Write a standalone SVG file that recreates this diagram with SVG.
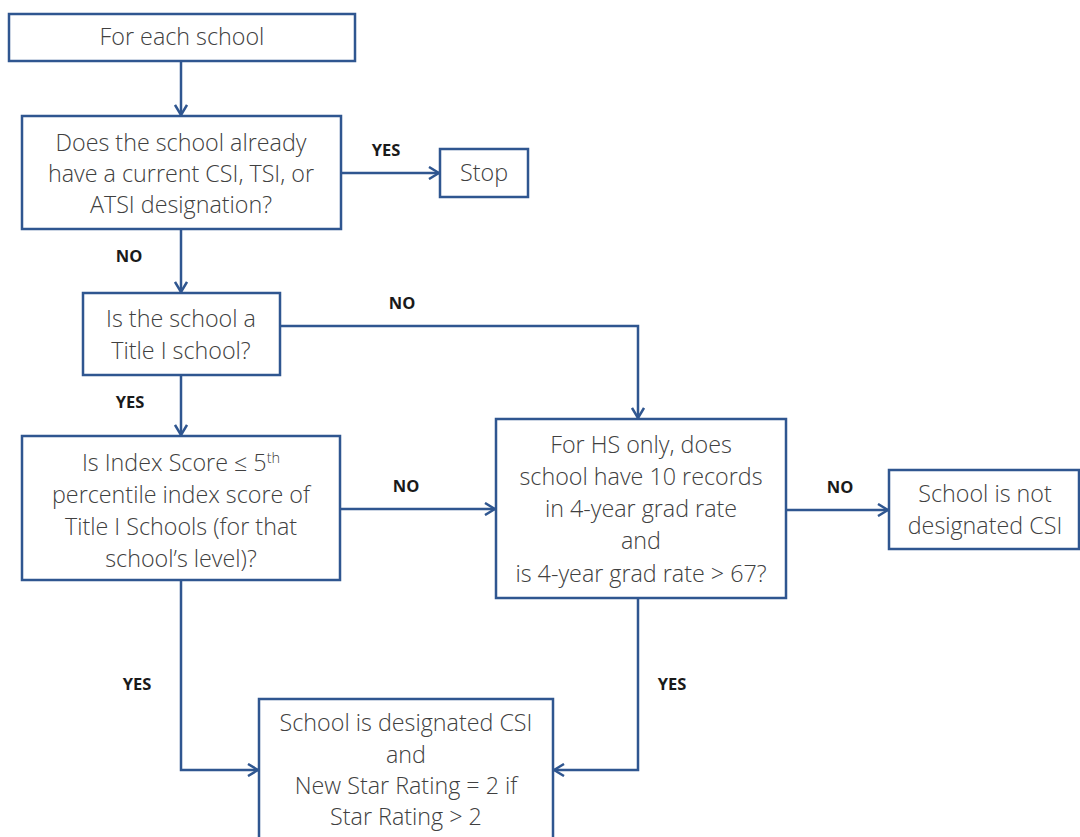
<svg xmlns="http://www.w3.org/2000/svg" width="1080" height="837" viewBox="0 0 1080 837">
<style>
.box{fill:#fff;stroke:#2f5690;stroke-width:2.5}
.t{font-family:"Open Sans",sans-serif;font-size:23.3px;font-weight:300;fill:#404040;text-anchor:middle}
.lbl{font-family:"Open Sans",sans-serif;font-size:16.5px;font-weight:bold;fill:#1a1a1a;text-anchor:middle}
.c{fill:none;stroke:#2f5690;stroke-width:2.5}
</style>
<defs>
<marker id="ah" viewBox="0 0 12 14" refX="11" refY="7" markerWidth="12" markerHeight="14" markerUnits="userSpaceOnUse" orient="auto">
<path d="M1,1 L11,7 L1,13" fill="none" stroke="#2f5690" stroke-width="2.5"/>
</marker>
</defs>
<rect width="1080" height="837" fill="#fff"/>
<g id="connectors">
<path class="c" d="M181,61 V115" marker-end="url(#ah)"/>
<path class="c" d="M341,173 H439" marker-end="url(#ah)"/>
<path class="c" d="M181,229 V292" marker-end="url(#ah)"/>
<path class="c" d="M280,326 H638 V418" marker-end="url(#ah)"/>
<path class="c" d="M181,375 V435" marker-end="url(#ah)"/>
<path class="c" d="M340,509 H495" marker-end="url(#ah)"/>
<path class="c" d="M786,510 H888" marker-end="url(#ah)"/>
<path class="c" d="M181,580 V770 H258" marker-end="url(#ah)"/>
<path class="c" d="M638,598 V770 H554" marker-end="url(#ah)"/>
<text class="lbl" x="386" y="156">YES</text>
<text class="lbl" x="129" y="262">NO</text>
<text class="lbl" x="402" y="309">NO</text>
<text class="lbl" x="130" y="408">YES</text>
<text class="lbl" x="406" y="492">NO</text>
<text class="lbl" x="840" y="493">NO</text>
<text class="lbl" x="137" y="690">YES</text>
<text class="lbl" x="672" y="690">YES</text>
</g>
<g id="n1">
<rect class="box" x="9" y="14" width="346" height="47"/>
<text class="t" x="182" y="45">For each school</text>
</g>
<g id="n2">
<rect class="box" x="22" y="116" width="319" height="113"/>
<text class="t" x="181" y="151">Does the school already</text>
<text class="t" x="181" y="182">have a current CSI, TSI, or</text>
<text class="t" x="181" y="213">ATSI designation?</text>
</g>
<g id="n3">
<rect class="box" x="440" y="149" width="88" height="48"/>
<text class="t" x="484" y="181">Stop</text>
</g>
<g id="n4">
<rect class="box" x="83" y="293" width="197" height="82"/>
<text class="t" x="181" y="327">Is the school a</text>
<text class="t" x="181" y="359">Title I school?</text>
</g>
<g id="n5">
<rect class="box" x="22" y="436" width="318" height="144"/>
<text class="t" x="181" y="471">Is Index Score ≤ 5<tspan font-size="14.5" dy="-8">th</tspan></text>
<text class="t" x="181" y="503">percentile index score of</text>
<text class="t" x="181" y="535">Title I Schools (for that</text>
<text class="t" x="181" y="567">school’s level)?</text>
</g>
<g id="n6">
<rect class="box" x="496" y="419" width="290" height="179"/>
<text class="t" x="641" y="453">For HS only, does</text>
<text class="t" x="641" y="485">school have 10 records</text>
<text class="t" x="641" y="517">in 4-year grad rate</text>
<text class="t" x="641" y="549">and</text>
<text class="t" x="641" y="582">is 4-year grad rate &gt; 67?</text>
</g>
<g id="n7">
<rect class="box" x="889" y="470" width="190" height="79"/>
<text class="t" x="985" y="502">School is not</text>
<text class="t" x="985" y="534">designated CSI</text>
</g>
<g id="n8">
<rect class="box" x="259" y="699" width="294" height="150"/>
<text class="t" x="406" y="731">School is designated CSI</text>
<text class="t" x="406" y="763">and</text>
<text class="t" x="406" y="794">New Star Rating = 2 if</text>
<text class="t" x="406" y="825">Star Rating &gt; 2</text>
</g>
</svg>
